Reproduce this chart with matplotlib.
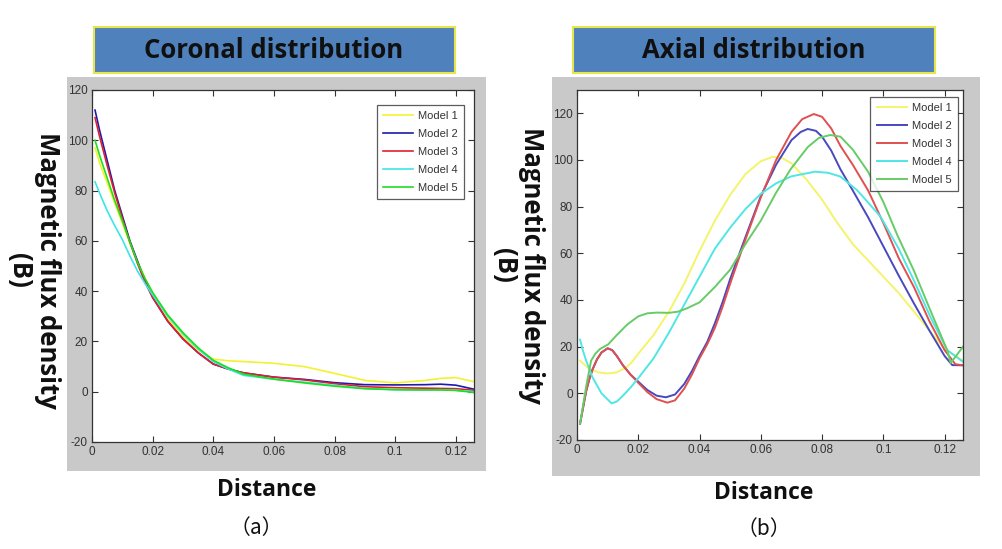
import matplotlib
matplotlib.use("Agg")
import matplotlib.pyplot as plt
from matplotlib.patches import Rectangle

# ---------------- data: Coronal distribution ----------------
cor_x = [0.001, 0.0025, 0.005, 0.0075, 0.01, 0.0125, 0.015, 0.0175, 0.02, 0.025, 0.03,
         0.035, 0.04, 0.045, 0.05, 0.06, 0.07, 0.08, 0.09, 0.1, 0.11, 0.115, 0.12, 0.126]
cor_m1 = [97, 91, 83, 75, 67, 59, 52, 45, 38.5, 29, 22,
          16.5, 13, 12.3, 12, 11.3, 10, 7.3, 4.5, 3.5, 4.5, 5.3, 5.6, 4]
cor_m2 = [112, 104, 92, 80, 70, 60, 52, 44, 37.5, 28, 21,
          15.5, 11, 9, 7.5, 5.8, 4.9, 3.6, 2.8, 2.7, 2.8, 3, 2.6, 1]
cor_m3 = [109, 101.5, 90, 79, 69, 59.5, 51, 43.5, 37.5, 28, 21,
          15.5, 11, 9, 7.5, 5.8, 4.7, 3.2, 2, 1.6, 1.4, 1.3, 1.2, 0.6]
cor_m4 = [83.5, 79, 72, 66, 60.5, 54, 48, 43, 38.5, 30, 23,
          17, 12, 9, 6.5, 5, 3.8, 2.5, 1.3, 0.8, 0.7, 0.8, 0.6, 0]
cor_m5 = [100, 94, 85, 76, 68, 59.5, 51.5, 45, 39.5, 30.5, 23.5,
          17.5, 12.5, 9.5, 7, 5, 3.5, 2.2, 1.2, 0.8, 0.7, 0.7, 0.5, -0.3]

# ---------------- data: Axial distribution ----------------
ax_m1_x = [0.001, 0.004, 0.007, 0.01, 0.013, 0.016, 0.018, 0.02, 0.025, 0.03, 0.035,
           0.04, 0.045, 0.05, 0.055, 0.06, 0.064, 0.067, 0.07, 0.075, 0.08, 0.085,
           0.09, 0.095, 0.1, 0.105, 0.11, 0.115, 0.12, 0.126]
ax_m1 = [14, 10.5, 9, 8.5, 9, 11, 13.5, 17, 25, 35, 47,
         61, 74, 85, 94, 99.5, 101.4, 100.8, 98.6, 91.5, 83, 73,
         64, 57, 50, 43, 35, 27, 19, 14]

ax_m2_x = [0.001, 0.002, 0.003, 0.004, 0.005, 0.0065, 0.008, 0.01, 0.0115, 0.013, 0.015,
           0.0175, 0.02, 0.023, 0.026, 0.029, 0.032, 0.035, 0.0375, 0.04, 0.0425, 0.045,
           0.0475, 0.05, 0.055, 0.06, 0.065, 0.07, 0.073, 0.0753, 0.078, 0.08, 0.083,
           0.086, 0.09, 0.095, 0.1, 0.105, 0.11, 0.115, 0.12, 0.1225, 0.126]
ax_m2 = [-13, -6, 1, 6, 10, 14.5, 17.5, 19.3, 18.5, 16, 12,
         8, 5, 1.4, -1, -1.7, -0.5, 4, 9.5, 16, 22, 30,
         39, 49, 67, 84.5, 98, 108.5, 112, 113.3, 112.5, 110, 104,
         96, 87, 75.5, 63, 50.5, 38.5, 27, 16, 12.1, 12]

ax_m3_x = [0.001, 0.002, 0.003, 0.004, 0.005, 0.0065, 0.008, 0.01, 0.0115, 0.013, 0.015,
           0.0175, 0.02, 0.023, 0.026, 0.0295, 0.032, 0.035, 0.0375, 0.04, 0.0425, 0.045,
           0.0475, 0.05, 0.055, 0.06, 0.065, 0.07, 0.0735, 0.0773, 0.08, 0.083, 0.086,
           0.09, 0.095, 0.1, 0.105, 0.11, 0.115, 0.12, 0.1235, 0.126]
ax_m3 = [-13, -6, 1, 6, 10, 14.5, 17.5, 19.3, 18.5, 16, 12,
         8, 4.5, 0.5, -2.5, -4, -3, 2, 8, 15, 21, 28,
         37, 47, 66, 84, 100, 112, 117.5, 119.7, 118.5, 113.5, 106,
         98, 87, 73, 58, 45.5, 31, 18.5, 12.5, 12]

ax_m4_x = [0.001, 0.002, 0.003, 0.005, 0.008, 0.0113, 0.013, 0.015, 0.0175, 0.02, 0.025,
           0.03, 0.035, 0.04, 0.045, 0.05, 0.055, 0.06, 0.065, 0.07, 0.0777, 0.082,
           0.086, 0.0915, 0.0991, 0.105, 0.1099, 0.1153, 0.1208, 0.126]
ax_m4 = [23, 18, 14, 7, 0, -4.3, -3.5, -1, 2.5, 6.5, 15,
         26, 38, 50, 62, 71, 79, 85.5, 90, 93, 95, 94.5,
         92.9, 87, 75.7, 62, 48.6, 32.9, 18.6, 13.5]

ax_m5_x = [0.001, 0.002, 0.003, 0.0046, 0.006, 0.0075, 0.0102, 0.013, 0.0164, 0.02, 0.023,
           0.026, 0.03, 0.033, 0.036, 0.04, 0.0451, 0.05, 0.055, 0.06, 0.065, 0.0697,
           0.0753, 0.079, 0.0827, 0.086, 0.09, 0.095, 0.1, 0.1045, 0.11, 0.1153, 0.1208,
           0.122, 0.126]
ax_m5 = [-13, -5, 3, 14, 17, 19, 21, 25, 29.5, 33, 34.3,
         34.6, 34.5, 35, 36.5, 39, 45.7, 53, 64, 74, 86, 96,
         105.5, 109.5, 110.7, 110, 104.5, 95, 82, 68, 52.5, 35.7, 18.6,
         13, 20]

labels = ["Model 1", "Model 2", "Model 3", "Model 4", "Model 5"]
xticks = [0, 0.02, 0.04, 0.06, 0.08, 0.1, 0.12]
xticklabels = ["0", "0.02", "0.04", "0.06", "0.08", "0.1", "0.12"]

cols_left = ["#f2f230", "#1c1caa", "#e0202e", "#3ae6e6", "#20dd20"]
cols_right = ["#f4f46a", "#4848c0", "#e05050", "#50e6e6", "#66cc66"]

W, H = 1003, 549
fig = plt.figure(figsize=(W / 100, H / 100), dpi=100)
fig.patch.set_facecolor("white")

def fx(px):
    return px / W

def fy(py):
    return 1 - py / H

def rect(x0, y0, x1, y1, **kw):
    fig.patches.append(Rectangle((fx(x0), fy(y1)), fx(x1) - fx(x0), fy(y0) - fy(y1),
                                 transform=fig.transFigure, **kw))

# gray frames
rect(67, 77, 486, 471, facecolor="#c9c9c9", edgecolor="none", zorder=-2)
rect(552, 77, 980, 476, facecolor="#c9c9c9", edgecolor="none", zorder=-2)

# title boxes
rect(94, 27, 455, 73, facecolor="#4f81bd", edgecolor="#e6e64a", linewidth=1.5, zorder=-1)
rect(573, 27, 935, 73, facecolor="#4f81bd", edgecolor="#e6e64a", linewidth=1.5, zorder=-1)
title_font = dict(fontsize=18.5, fontweight="bold", color="#101010", family="Open Sans",
                  ha="center", va="center")
fig.text(fx(274), fy(51), "Coronal distribution", **title_font)
fig.text(fx(754), fy(51), "Axial distribution", **title_font)

def setup(ax, ylim, yticks):
    ax.set_zorder(3)
    ax.set_facecolor("white")
    ax.set_xlim(0, 0.126)
    ax.set_ylim(*ylim)
    ax.set_xticks(xticks)
    ax.set_xticklabels(xticklabels)
    ax.set_yticks(yticks)
    ax.set_yticklabels([str(v) for v in yticks])
    ax.tick_params(direction="in", top=True, right=True, length=4, width=0.8,
                   labelsize=8.5, colors="#333333", pad=3)
    for lab in ax.get_xticklabels() + ax.get_yticklabels():
        lab.set_family("Liberation Sans")
    for s in ax.spines.values():
        s.set_color("#333333")
        s.set_linewidth(0.9)

def legend(ax, anchor):
    leg = ax.legend(loc="upper right", bbox_to_anchor=anchor, fontsize=8,
                    frameon=True, fancybox=False, edgecolor="#333333", handlelength=2.7,
                    labelspacing=0.72, borderpad=0.55, handletextpad=0.5, borderaxespad=0)
    leg.get_frame().set_linewidth(0.9)
    for t in leg.get_texts():
        t.set_color("#333333")
        t.set_family("Liberation Sans")

ax1 = fig.add_axes([fx(92), fy(442), fx(474) - fx(92), fy(90) - fy(442)])
setup(ax1, (-20, 120), list(range(-20, 121, 20)))
for y, c, l in zip([cor_m1, cor_m2, cor_m3, cor_m4, cor_m5], cols_left, labels):
    ax1.plot(cor_x, y, color=c, lw=1.2, label=l)
legend(ax1, (0.974, 0.957))

ax2 = fig.add_axes([fx(577), fy(440), fx(963) - fx(577), fy(90) - fy(440)])
setup(ax2, (-20, 130), list(range(-20, 121, 20)))
for xs, y, c, l in zip([ax_m1_x, ax_m2_x, ax_m3_x, ax_m4_x, ax_m5_x],
                       [ax_m1, ax_m2, ax_m3, ax_m4, ax_m5], cols_right, labels):
    ax2.plot(xs, y, color=c, lw=1.4, label=l)
legend(ax2, (0.987, 0.98))

lab_font = dict(fontsize=16.5, fontweight="bold", color="#101010", family="Open Sans",
                ha="center", va="center")
ylab_font = dict(lab_font, fontsize=18.5)
fig.text(fx(267), fy(490), "Distance", **lab_font)
fig.text(fx(764), fy(493), "Distance", **lab_font)
fig.text(fx(47), fy(270), "Magnetic flux density", rotation=-90, **ylab_font)
fig.text(fx(20), fy(270), "(B)", rotation=-90, **ylab_font)
fig.text(fx(532), fy(265), "Magnetic flux density", rotation=-90, **ylab_font)
fig.text(fx(505), fy(265), "(B)", rotation=-90, **ylab_font)

cap_font = dict(fontsize=15, color="#111111", family=["Noto Sans CJK KR", "DejaVu Sans"],
                ha="center", va="center")
fig.text(fx(256), fy(528), "（a）", **cap_font)
fig.text(fx(764), fy(529), "（b）", **cap_font)

fig.savefig("out.png", dpi=100, facecolor="white")
